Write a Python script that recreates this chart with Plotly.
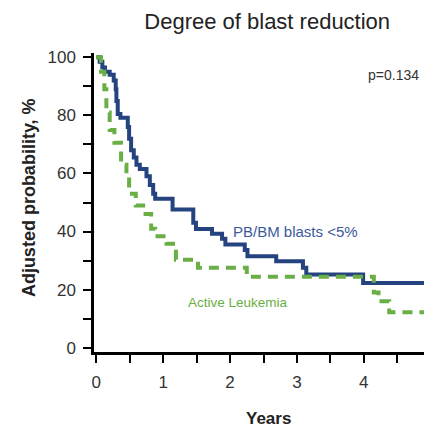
import plotly.graph_objects as go

# Kaplan-Meier style step curves
blasts_years = [0, 0.05, 0.09, 0.13, 0.2, 0.26, 0.29, 0.30, 0.32, 0.36, 0.47, 0.49, 0.52, 0.56,
                0.6, 0.65, 0.75, 0.8, 0.85, 0.88, 1.14, 1.45, 1.49, 1.73, 1.88, 1.93, 2.22,
                2.26, 2.69, 3.09, 3.14, 3.99, 4.99, 5.02]
blasts_prob = [100, 98.5, 96.5, 95, 94, 92, 89, 85, 80.5, 79.2, 76, 72, 68, 65.5,
               63, 61.5, 59, 56, 53, 51.3, 47.6, 43, 40.9, 39.2, 37.5, 35.5, 33.6,
               31.5, 29.8, 27.5, 25.2, 22.3, 20, 20]

active_years = [0, 0.07, 0.12, 0.15, 0.2, 0.27, 0.37, 0.45, 0.49, 0.59, 0.7, 0.82, 0.88,
                1.05, 1.19, 1.52, 2.25, 4.15, 4.22, 4.38, 5.02]
active_prob = [100, 95, 89, 81, 75, 70.6, 63, 59, 53, 49, 46, 41, 38.4,
               35.8, 30.3, 27.5, 24.4, 19, 16, 12.2, 12.2]

x_ticks = [0, 0.5, 1, 1.5, 2, 2.5, 3, 3.5, 4, 4.5, 5]
x_labels = ["0", "", "1", "", "2", "", "3", "", "4", "", "5"]
y_ticks = [0, 10, 20, 30, 40, 50, 60, 70, 80, 90, 100]
y_labels = ["0", "", "20", "", "40", "", "60", "", "80", "", "100"]

BLUE = "#24437f"
GREEN = "#6aaf45"
FONT = "Liberation Sans, Arial"

fig = go.Figure()

fig.add_trace(go.Scatter(
    x=blasts_years, y=blasts_prob, mode="lines", line_shape="hv",
    line=dict(color=BLUE, width=4), showlegend=False,
))
fig.add_trace(go.Scatter(
    x=active_years, y=active_prob, mode="lines", line_shape="hv",
    line=dict(color=GREEN, width=4, dash="10px,7px"), showlegend=False,
))

# --- in-plot labels ---
fig.add_annotation(x=2.98, y=40.1, text="PB/BM blasts <5%", showarrow=False,
                   font=dict(family=FONT, size=15, color="#3a5a9c"))
fig.add_annotation(x=2.12, y=15.6, text="Active Leukemia", showarrow=False,
                   font=dict(family=FONT, size=13.5, color=GREEN))
fig.add_annotation(x=4.45, y=93.8, text="p=0.134", showarrow=False,
                   font=dict(family=FONT, size=14, color="#333333"))

# --- axis titles (placed by hand, outside the plot area) ---
fig.add_annotation(xref="paper", yref="paper", x=-0.192, y=0.515,
                   xanchor="center", yanchor="middle",
                   text="<b>Adjusted probability, %</b>", textangle=-90, showarrow=False,
                   font=dict(family=FONT, size=18, color="#222222"))
fig.add_annotation(xref="paper", yref="paper", x=0.515, y=-0.221,
                   xanchor="center", yanchor="middle",
                   text="<b>Years</b>", showarrow=False,
                   font=dict(family=FONT, size=17, color="#222222"))

# page body adds an 8px offset; the right edge runs past the window like the original
fig.update_layout(
    width=432, height=429,
    margin=dict(l=86, r=8, t=45, b=85),
    paper_bgcolor="white", plot_bgcolor="white",
    title=dict(text="Degree of blast reduction", x=0.6, y=0.969,
               xanchor="center", yanchor="middle",
               font=dict(family=FONT, size=22, color="#222222")),
)

fig.update_xaxes(
    range=[-0.035, 5.02], showgrid=False, zeroline=False, automargin=False,
    showline=True, linecolor="black", linewidth=2.5,
    ticks="outside", ticklen=8, tickwidth=2, tickcolor="black",
    tickvals=x_ticks, ticktext=x_labels, ticklabelstandoff=5,
    tickfont=dict(family=FONT, size=17, color="#333333"),
)
fig.update_yaxes(
    range=[-1.5, 101.5], showgrid=False, zeroline=False, automargin=False,
    showline=True, linecolor="black", linewidth=2.5,
    ticks="outside", ticklen=8, tickwidth=2, tickcolor="black",
    tickvals=y_ticks, ticktext=y_labels, ticklabelstandoff=4,
    tickfont=dict(family=FONT, size=17, color="#333333"),
)

fig.write_html("out.html")
